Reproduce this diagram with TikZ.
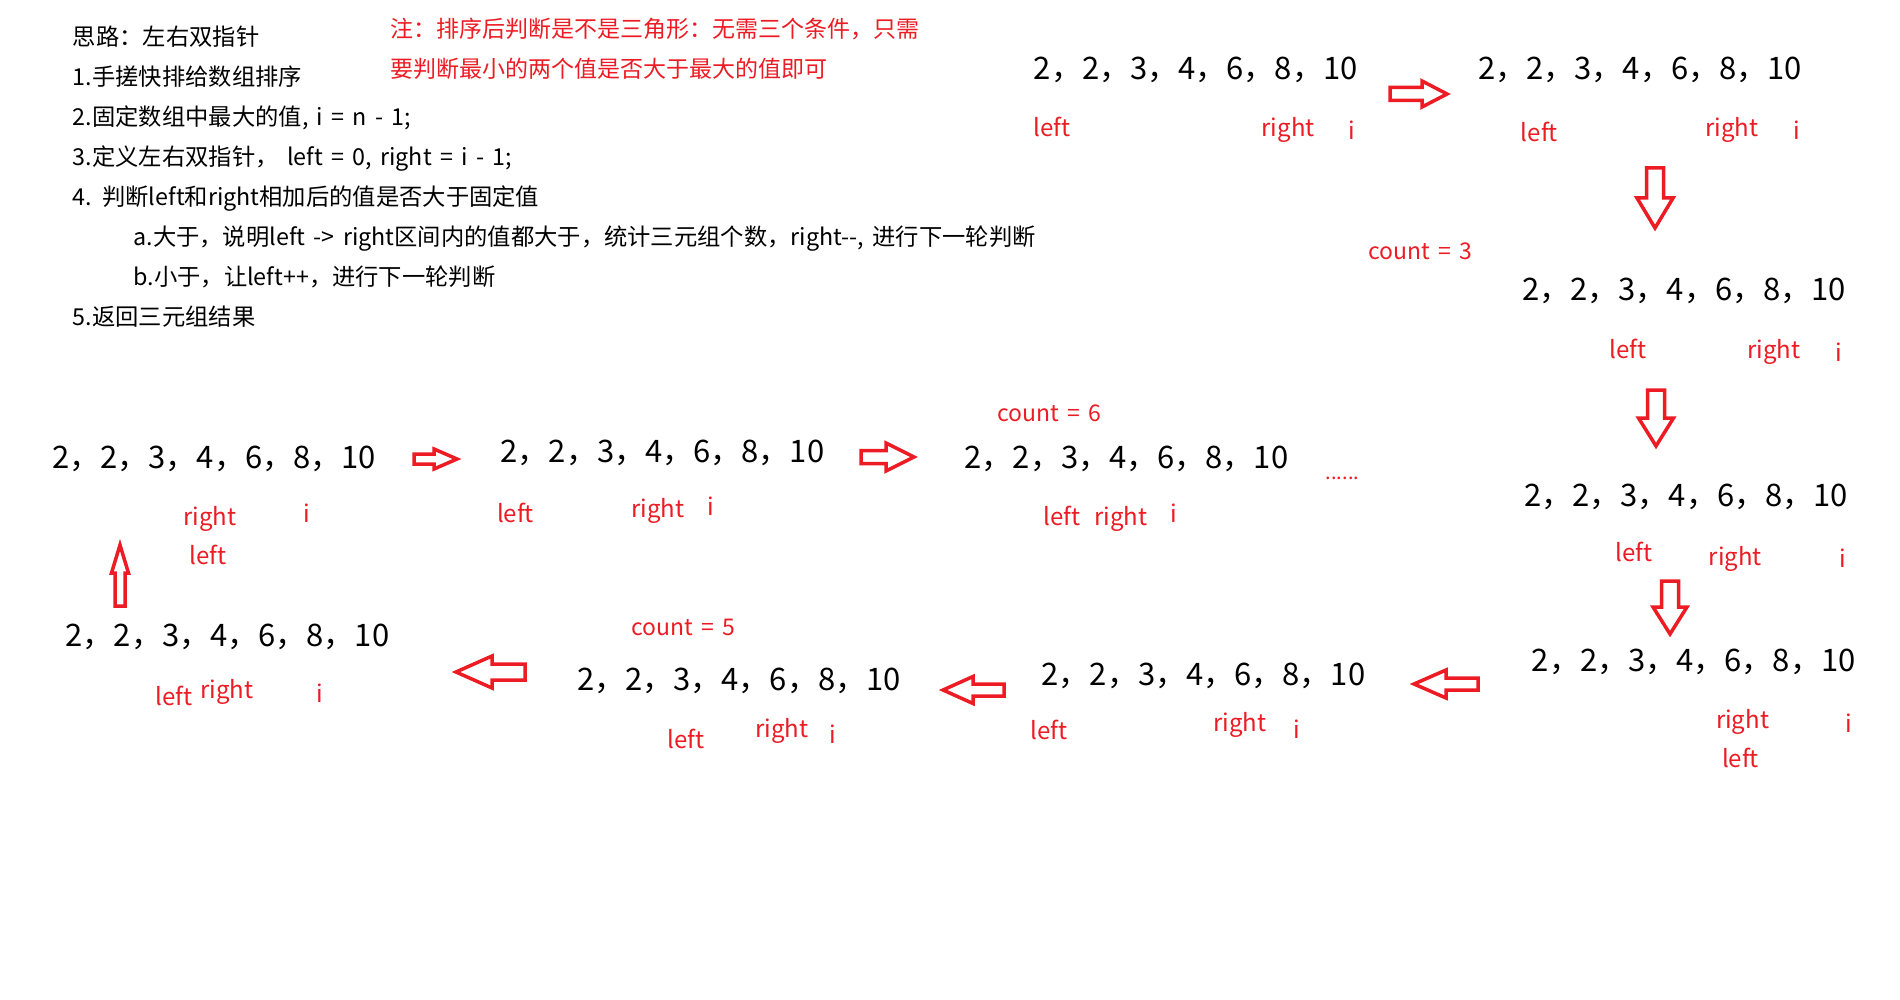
\documentclass[tikz,border=0pt]{standalone}
\usepackage{fontspec}
\setmainfont{Noto Sans CJK SC}[WordSpace=1.6]

\definecolor{tpRed}{RGB}{237,28,36}
\definecolor{tpText}{RGB}{0,0,0}

\newcommand{\numRow}{2，2，3，4，6，8，10}

\tikzset{
  stepText/.style={font=\fontsize{23.3}{27}\selectfont, text=tpText, inner sep=0pt, anchor=base west},
  noteText/.style={font=\fontsize{23}{27}\selectfont, text=tpRed, inner sep=0pt, anchor=base west},
  rowText/.style={font=\fontsize{31}{36}\selectfont, text=tpText, inner sep=0pt, anchor=base west},
  ptrText/.style={font=\fontsize{24}{28}\selectfont, text=tpRed, inner sep=0pt, anchor=base west},
  cntText/.style={font=\fontsize{23}{28}\selectfont, text=tpRed, inner sep=0pt, anchor=base west},
  hollowArrow/.style={draw=tpRed, fill=white, line width=3.5pt},
}

\begin{document}
\begin{tikzpicture}[x=1pt, y=-1pt]
  \fill[white] (0,0) rectangle (1900,1000);
  \useasboundingbox (0,0) rectangle (1900,1000);

  % steps
  \node[stepText] (idea) at (72.7,45.6) {思路：左右双指针};
  \node[stepText] (stepA) at (72.7,85.5) {1.手搓快排给数组排序};
  \node[stepText] (stepB) at (72.7,125.5) {2.固定数组中最大的值, i = n - 1;};
  \node[stepText] (stepC) at (72.7,165.5) {3.定义左右双指针， left = 0, right = i - 1;};
  \node[stepText] (stepD) at (72.7,205.5) {4. 判断left和right相加后的值是否大于固定值};
  \node[stepText] (stepDa) at (133.3,245.5) {a.大于，说明left -> right区间内的值都大于，统计三元组个数，right-{}-, 进行下一轮判断};
  \node[stepText] (stepDb) at (133.3,285.5) {b.小于，让left++，进行下一轮判断};
  \node[stepText] (stepE) at (72.7,325.5) {5.返回三元组结果};
  \node[noteText] (note1) at (390,38) {注：排序后判断是不是三角形：无需三个条件，只需};
  \node[noteText] (note2) at (390,78) {要判断最小的两个值是否大于最大的值即可};

  % row 1
  \node[rowText] (row1) at (1033.6,80) {\numRow};
  \node[ptrText] (row1l) at (1033.6,136.2) {left};
  \node[ptrText] (row1r) at (1261.4,136.2) {right};
  \node[ptrText] (row1i) at (1348.6,139.9) {i};
  \draw[hollowArrow] (1390,87.5) -- (1422,87.5) -- (1422,81) -- (1447,94) -- (1422,107) -- (1422,100.5) -- (1390,100.5) -- cycle;

  % row 2
  \node[rowText] (row2) at (1478,80) {\numRow};
  \node[ptrText] (row2l) at (1520.7,141.1) {left};
  \node[ptrText] (row2r) at (1704.9,136.2) {right};
  \node[ptrText] (row2i) at (1793.3,139.9) {i};
  \draw[hollowArrow] (1646.5,168) -- (1663.5,168) -- (1663.5,198) -- (1673,198) -- (1655,228) -- (1637,198) -- (1646.5,198) -- cycle;

  % row 3
  \node[cntText] (cnt3) at (1368,260) {count = 3};
  \node[rowText] (row3) at (1522,300.4) {\numRow};
  \node[ptrText] (row3l) at (1609.1,358) {left};
  \node[ptrText] (row3r) at (1747.3,358) {right};
  \node[ptrText] (row3i) at (1835.7,361.6) {i};
  \draw[hollowArrow] (1647.5,390) -- (1664.5,390) -- (1664.5,418) -- (1673.5,418) -- (1656,446) -- (1638.5,418) -- (1647.5,418) -- cycle;

  % row 4
  \node[rowText] (row4) at (1524,506.4) {\numRow};
  \node[ptrText] (row4l) at (1615.2,561.5) {left};
  \node[ptrText] (row4r) at (1708.5,565.2) {right};
  \node[ptrText] (row4i) at (1839.4,567.6) {i};
  \draw[hollowArrow] (1661.5,581) -- (1678.5,581) -- (1678.5,607) -- (1687,607) -- (1670,634) -- (1653,607) -- (1661.5,607) -- cycle;

  % row 5
  \node[rowText] (row5) at (1531.6,671.2) {\numRow};
  \node[ptrText] (row5r) at (1715.8,728.7) {right};
  \node[ptrText] (row5i) at (1845.4,732.4) {i};
  \node[ptrText] (row5l) at (1721.8,767.5) {left};
  \draw[hollowArrow] (1478,678) -- (1446,678) -- (1446,670) -- (1414,684) -- (1446,698) -- (1446,690) -- (1478,690) -- cycle;

  % row 6
  \node[rowText] (row6) at (1041.5,685.5) {\numRow};
  \node[ptrText] (row6l) at (1030,739.7) {left};
  \node[ptrText] (row6r) at (1212.9,731.2) {right};
  \node[ptrText] (row6i) at (1292.9,738.4) {i};
  \draw[hollowArrow] (1004,684) -- (973,684) -- (973,676.5) -- (943,690) -- (973,703.5) -- (973,696) -- (1004,696) -- cycle;

  % row 7
  \node[cntText] (cnt5) at (631.3,635.7) {count = 5};
  \node[rowText] (row7) at (576.8,690.6) {\numRow};
  \node[ptrText] (row7l) at (667.6,748.1) {left};
  \node[ptrText] (row7r) at (754.9,737.2) {right};
  \node[ptrText] (row7i) at (828.8,743.3) {i};
  \draw[hollowArrow] (525,664) -- (492,664) -- (492,656) -- (456,672) -- (492,688) -- (492,680) -- (525,680) -- cycle;

  % row 8
  \node[rowText] (row8) at (65.4,646.9) {\numRow};
  \node[ptrText] (row8l) at (155.1,705.7) {left};
  \node[ptrText] (row8r) at (199.9,698.5) {right};
  \node[ptrText] (row8i) at (316.3,702.1) {i};
  \draw[hollowArrow] (115,606) -- (115,573) -- (111.5,573) -- (120,545) -- (128.5,573) -- (125,573) -- (125,606) -- cycle;

  % row 9
  \node[rowText] (row9) at (52.1,468.8) {\numRow};
  \node[ptrText] (row9r) at (183,525.2) {right};
  \node[ptrText] (row9i) at (302.9,522.8) {i};
  \node[ptrText] (row9l) at (189,564) {left};
  \draw[hollowArrow] (414,454) -- (434,454) -- (434,449) -- (457,459) -- (434,469) -- (434,464) -- (414,464) -- cycle;

  % row 10
  \node[rowText] (row10) at (500.4,462.8) {\numRow};
  \node[ptrText] (row10l) at (496.8,522.8) {left};
  \node[ptrText] (row10r) at (631.3,517.9) {right};
  \node[ptrText] (row10i) at (707.6,515.5) {i};
  \draw[hollowArrow] (861,450.5) -- (886,450.5) -- (886,443) -- (914,457) -- (886,471) -- (886,463.5) -- (861,463.5) -- cycle;

  % row 11
  \node[cntText] (cnt6) at (997.2,421.2) {count = 6};
  \node[rowText] (row11) at (964.5,468.8) {\numRow};
  \node[ptrText] (row11l) at (1043.3,525.2) {left};
  \node[ptrText] (row11r) at (1094.2,525.2) {right};
  \node[ptrText] (row11i) at (1170.5,522.8) {i};
  \node[ptrText, font=\fontsize{20}{24}\selectfont] (more) at (1325.6,479) {......};
\end{tikzpicture}
\end{document}
